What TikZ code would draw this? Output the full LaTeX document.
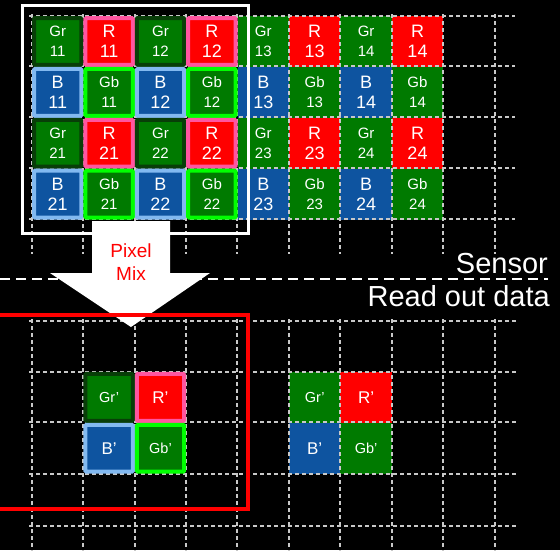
\documentclass[tikz,border=0pt]{standalone}
\usepackage{fontspec}
\setmainfont{Liberation Sans}
\definecolor{cgreen}{RGB}{0,122,0}
\definecolor{cred}{RGB}{255,0,0}
\definecolor{cblue}{RGB}{14,84,160}
\definecolor{cdkgreen}{RGB}{8,62,8}
\definecolor{cpink}{RGB}{255,85,160}
\definecolor{cltblue}{RGB}{130,185,240}
\definecolor{cbrgreen}{RGB}{0,255,0}
\definecolor{cgrid}{RGB}{200,200,200}
\newcommand\topcell[5]{\node[#1] (#2) at ({32+51.4*#3+25.7},{16+50.9*#4+25.45}) {#5};}
\newcommand\botcell[5]{\node[#1] (#2) at ({32+51.4*#3+25.7},{321+50.9*#4+25.45}) {#5};}
\begin{document}
\begin{tikzpicture}[x=1pt,y=-1pt,
  cellbase/.style={inner sep=0pt, text=white, align=center},
  plain/.style={cellbase, fill=#1, minimum width=51.4pt, minimum height=50.9pt},
  bord/.style 2 args={cellbase, draw=#1, fill=#2, line width=4pt, rounded corners=1pt,
    minimum width=47.4pt, minimum height=46.9pt},
  gtxt/.style={font=\fontsize{15}{20}\selectfont},
  btxt/.style={font=\fontsize{18}{20}\selectfont},
  grP/.style={plain=cgreen, gtxt}, rP/.style={plain=cred, btxt},
  bP/.style={plain=cblue, btxt}, gbP/.style={plain=cgreen, gtxt},
  grB/.style={bord={cdkgreen}{cgreen}, gtxt}, rB/.style={bord={cpink}{cred}, btxt},
  bB/.style={bord={cltblue}{cblue}, btxt}, gbB/.style={bord={cbrgreen}{cgreen}, gtxt},
  grid/.style={draw=cgrid, line width=1.2pt, dash pattern=on 4pt off 3pt},
  bgtxt/.style={font=\fontsize{14.5}{16}\selectfont},
  bbtxt/.style={font=\fontsize{17}{16}\selectfont},
]
\useasboundingbox[fill=black] (0,0) rectangle (560,550);
% plain cells (top, right half)
\topcell{grP}{gr13}{4}{0}{Gr\\13}
\topcell{rP}{r13}{5}{0}{R\\13}
\topcell{grP}{gr14}{6}{0}{Gr\\14}
\topcell{rP}{r14}{7}{0}{R\\14}
\topcell{bP}{b13}{4}{1}{B\\13}
\topcell{gbP}{gb13}{5}{1}{Gb\\13}
\topcell{bP}{b14}{6}{1}{B\\14}
\topcell{gbP}{gb14}{7}{1}{Gb\\14}
\topcell{grP}{gr23}{4}{2}{Gr\\23}
\topcell{rP}{r23}{5}{2}{R\\23}
\topcell{grP}{gr24}{6}{2}{Gr\\24}
\topcell{rP}{r24}{7}{2}{R\\24}
\topcell{bP}{b23}{4}{3}{B\\23}
\topcell{gbP}{gb23}{5}{3}{Gb\\23}
\topcell{bP}{b24}{6}{3}{B\\24}
\topcell{gbP}{gb24}{7}{3}{Gb\\24}
% plain cells (bottom right)
\botcell{grP,bgtxt}{grp2}{5}{1}{Gr’}
\botcell{rP,bbtxt}{rp2}{6}{1}{R’}
\botcell{bP,bbtxt}{bp2}{5}{2}{B’}
\botcell{gbP,bgtxt}{gbp2}{6}{2}{Gb’}
% grids
\foreach \y in {16,66,117,168,219} \draw[grid] (29,\y) -- (515,\y);
\foreach \x in {32,83,135,186,237,289,340,392,443,495} \draw[grid] (\x,14) -- (\x,254);
\foreach \y in {321,372,422,474,526} \draw[grid] (29,\y) -- (517,\y);
\foreach \x in {32,83,135,186,237,289,340,392,443,495} \draw[grid] (\x,319) -- (\x,552);
% bordered cells (top left)
\topcell{grB}{gr11}{0}{0}{Gr\\11}
\topcell{rB}{r11}{1}{0}{R\\11}
\topcell{grB}{gr12}{2}{0}{Gr\\12}
\topcell{rB}{r12}{3}{0}{R\\12}
\topcell{bB}{b11}{0}{1}{B\\11}
\topcell{gbB}{gb11}{1}{1}{Gb\\11}
\topcell{bB}{b12}{2}{1}{B\\12}
\topcell{gbB}{gb12}{3}{1}{Gb\\12}
\topcell{grB}{gr21}{0}{2}{Gr\\21}
\topcell{rB}{r21}{1}{2}{R\\21}
\topcell{grB}{gr22}{2}{2}{Gr\\22}
\topcell{rB}{r22}{3}{2}{R\\22}
\topcell{bB}{b21}{0}{3}{B\\21}
\topcell{gbB}{gb21}{1}{3}{Gb\\21}
\topcell{bB}{b22}{2}{3}{B\\22}
\topcell{gbB}{gb22}{3}{3}{Gb\\22}
% bordered cells (bottom left)
\botcell{grB,bgtxt}{grp1}{1}{1}{Gr’}
\botcell{rB,bbtxt}{rp1}{2}{1}{R’}
\botcell{bB,bbtxt}{bp1}{1}{2}{B’}
\botcell{gbB,bgtxt}{gbp1}{2}{2}{Gb’}
% white frame
\draw[white, line width=3pt] (22,5) rectangle (248,233);
% sensor line
\draw[white, line width=2.5pt, dash pattern=on 10pt off 6pt] (0,279) -- (548,279);
\node[white, anchor=base east, inner sep=0pt, font=\fontsize{29}{30}\selectfont] (sensor) at (548,273) {Sensor};
\node[white, anchor=base east, inner sep=0pt, font=\fontsize{29}{30}\selectfont] (readout) at (550,306) {Read out data};
% arrow
\fill[white] (92,221) -- (170,221) -- (170,273) -- (210,273) -- (131,327) -- (50,273) -- (92,273) -- cycle;
\node[text=cred, align=center, inner sep=0pt, font=\fontsize{19}{23}\selectfont] (mix) at (131,262) {Pixel\\Mix};
% red frame
\draw[cred, line width=3.5pt] (-5,315) rectangle (248,509);
\end{tikzpicture}
\end{document}
